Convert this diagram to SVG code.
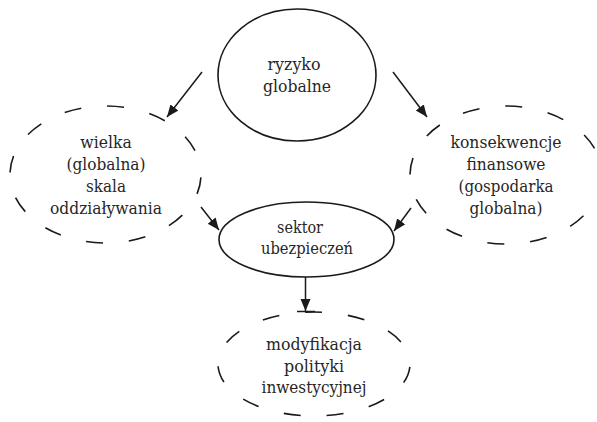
<svg xmlns="http://www.w3.org/2000/svg" width="597" height="422" viewBox="0 0 597 422">
  <defs>
    <style>
      .solid { fill: none; stroke: #1a1a1a; stroke-width: 1.6; }
      .dashed { fill: none; stroke: #1a1a1a; stroke-width: 1.6; stroke-dasharray: 17 26; }
      .conn { fill: none; stroke: #1a1a1a; stroke-width: 1.5; }
      .node { font-family: 'DejaVu Serif', 'Liberation Serif', serif; font-size: 17.5px; fill: #262626; text-anchor: middle; }
    </style>
    <marker id="arr" markerUnits="userSpaceOnUse" markerWidth="13" markerHeight="11" refX="12" refY="5" orient="auto">
      <path d="M0,0 L12,5 L0,10 z" fill="#1a1a1a"/>
    </marker>
  </defs>
  <rect width="597" height="422" fill="#fff"/>

  <g id="ryzyko" class="node">
    <ellipse class="solid" cx="297" cy="75" rx="79" ry="66"/>
    <text x="294" y="70" textLength="53" lengthAdjust="spacingAndGlyphs">ryzyko</text>
    <text x="297" y="92" textLength="68" lengthAdjust="spacingAndGlyphs">globalne</text>
  </g>

  <g id="wielka" class="node">
    <ellipse class="dashed" cx="105.5" cy="174.5" rx="95.5" ry="68.5" stroke-dashoffset="-3"/>
    <text x="106" y="148" textLength="51.5" lengthAdjust="spacingAndGlyphs">wielka</text>
    <text x="106" y="170" textLength="79" lengthAdjust="spacingAndGlyphs">(globalna)</text>
    <text x="106" y="192" textLength="40" lengthAdjust="spacingAndGlyphs">skala</text>
    <text x="106" y="214" textLength="112" lengthAdjust="spacingAndGlyphs">oddziaływania</text>
  </g>

  <g id="konsekwencje" class="node">
    <ellipse class="dashed" cx="506" cy="175" rx="96" ry="69" stroke-dashoffset="-3"/>
    <text x="506" y="148" textLength="111" lengthAdjust="spacingAndGlyphs">konsekwencje</text>
    <text x="506" y="170" textLength="79" lengthAdjust="spacingAndGlyphs">finansowe</text>
    <text x="506" y="192" textLength="95" lengthAdjust="spacingAndGlyphs">(gospodarka</text>
    <text x="506" y="214" textLength="73" lengthAdjust="spacingAndGlyphs">globalna)</text>
  </g>

  <g id="sektor" class="node">
    <ellipse class="solid" cx="306.5" cy="239.5" rx="87.5" ry="37.5"/>
    <text x="300" y="233" textLength="46" lengthAdjust="spacingAndGlyphs">sektor</text>
    <text x="307" y="254" textLength="92" lengthAdjust="spacingAndGlyphs">ubezpieczeń</text>
  </g>

  <g id="modyfikacja" class="node">
    <ellipse class="dashed" cx="314" cy="364" rx="96" ry="52" stroke-dashoffset="-3"/>
    <text x="314" y="350" textLength="96" lengthAdjust="spacingAndGlyphs">modyfikacja</text>
    <text x="314" y="372" textLength="60" lengthAdjust="spacingAndGlyphs">polityki</text>
    <text x="314" y="393" textLength="105" lengthAdjust="spacingAndGlyphs">inwestycyjnej</text>
  </g>

  <g id="connectors">
    <line class="conn" x1="202" y1="72" x2="167" y2="117" marker-end="url(#arr)"/>
    <line class="conn" x1="393" y1="72" x2="427" y2="117" marker-end="url(#arr)"/>
    <line class="conn" x1="201" y1="207" x2="219" y2="230" marker-end="url(#arr)"/>
    <line class="conn" x1="411" y1="208" x2="394" y2="231" marker-end="url(#arr)"/>
    <line class="conn" x1="305.5" y1="277" x2="305.5" y2="311" marker-end="url(#arr)"/>
    <line class="conn" x1="297" y1="311.5" x2="315" y2="311.5"/>
  </g>
</svg>
